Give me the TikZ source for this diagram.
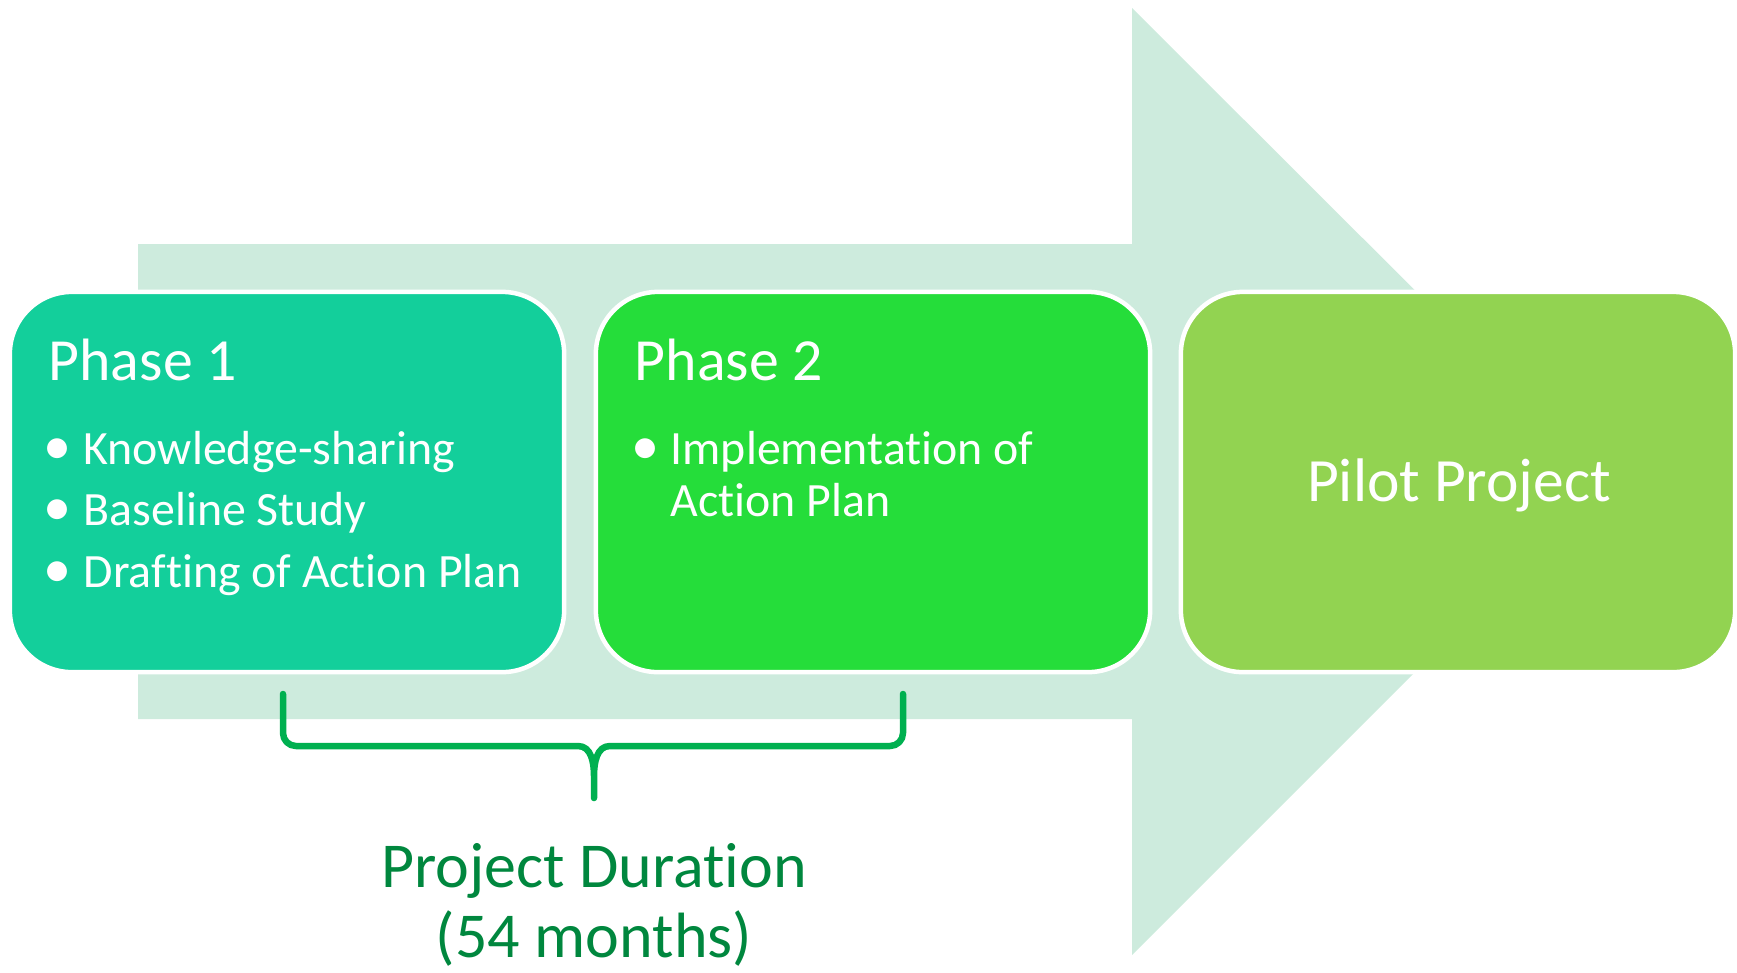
\documentclass[tikz,border=0pt]{standalone}
\usepackage{fontspec}
\setmainfont{Carlito}[Ligatures=NoCommon]
\definecolor{arrowbg}{HTML}{CDEBDD}
\definecolor{phaseone}{HTML}{13CF9B}
\definecolor{phasetwo}{HTML}{25DD3A}
\definecolor{pilotgreen}{HTML}{92D351}
\definecolor{bracegreen}{HTML}{00B050}
\definecolor{durgreen}{HTML}{00873E}
\begin{document}
\begin{tikzpicture}[x=0.01cm, y=-0.01cm,
	box/.style={draw=white, line width=0.045cm, rounded corners=0.62cm, minimum width=5.54cm, minimum height=3.8cm},
	title/.style={text=white, inner sep=0, anchor=base west, font=\fontsize{17}{20}\selectfont},
	itemtext/.style={text=white, inner sep=0, anchor=base west, font=\fontsize{13.6}{16}\selectfont},
	bul/.style={text=white, inner sep=0, anchor=base, font=\fontsize{16}{16}\selectfont},
	duration/.style={text=durgreen, inner sep=0, anchor=base, font=\fontsize{18.2}{22}\selectfont}]
	\useasboundingbox (0,0) rectangle (1737,972);
	\fill[arrowbg] (138,244) -- (1132,244) -- (1132,8) -- (1606,481) -- (1132,955) -- (1132,719) -- (138,719) -- cycle;
	\node[box, fill=phaseone] (phase1) at (287,482) {};
	\node[box, fill=phasetwo] (phase2) at (873,482) {};
	\node[box, fill=pilotgreen] (pilot) at (1458,482) {};
	\node[title] (t1) at (48,380) {Phase 1};
	\foreach \y/\t [count=\i] in {464/Knowledge-sharing, 525/Baseline Study, 587/Drafting of Action Plan} {
		\node[bul] (b\i) at (58,\y) {\textbullet};
		\node[itemtext] (i\i) at (83,\y) {\t};
	}
	\node[title] (t2) at (634,380) {Phase 2};
	\node[bul] (b4) at (645,464) {\textbullet};
	\node[itemtext] (i4) at (670,464) {Implementation of};
	\node[itemtext] (i5) at (670,516) {Action Plan};
	\node[title, anchor=base, font=\fontsize{17.5}{21}\selectfont] (t3) at (1459,501) {Pilot Project};
	\coordinate (bl) at (283,694);
	\coordinate (tip) at (594,798);
	\coordinate (br) at (903,694);
	\draw[bracegreen, line width=0.065cm, line cap=round, line join=round] (bl) -- (283,733) to[out=-90,in=180] (296,746) -- (578,746) to[out=0,in=90] (594,776) -- (tip) -- (594,776) to[out=90,in=180] (610,746) -- (890,746) to[out=0,in=-90] (903,733) -- (br);
	\node[duration] (d1) at (594,887) {Project Duration};
	\node[duration] (d2) at (594,957) {(54 months)};
\end{tikzpicture}
\end{document}
